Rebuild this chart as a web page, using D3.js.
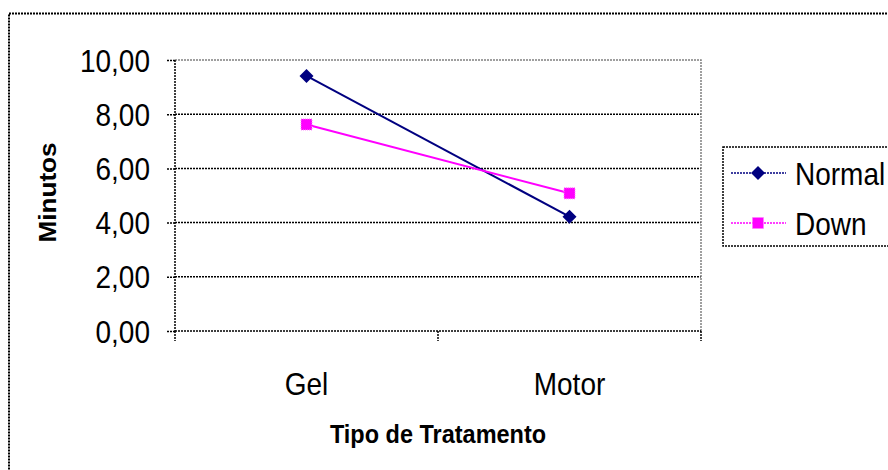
<!DOCTYPE html>
<html>
<head>
<meta charset="utf-8">
<script src="https://cdn.jsdelivr.net/npm/d3@7"></script>
<style>
  html, body { margin: 0; padding: 0; background: #fff; }
  svg { display: block; font-family: "Liberation Sans", Arial, sans-serif; }
</style>
</head>
<body>
<svg id="chart" width="888" height="470"></svg>
<script>
// Tempo médio por tipo de tratamento
const categories = ["Gel", "Motor"];
const seriesNames = ["Normal", "Down"];
const normalValues = [9.41, 4.22];
const downValues = [7.62, 5.08];
const yTicks = [0, 2, 4, 6, 8, 10];
const seriesColors = ["#000080", "#FF00FF"];

const svg = d3.select("#chart");
const margin = { left: 175, right: 187, top: 60, bottom: 139 };
const W = 888, H = 470;
const plotW = W - margin.left - margin.right;
const plotH = H - margin.top - margin.bottom;
const TALL = 1.12; // glyphs are drawn slightly taller than wide

const fmt = v => d3.format(".2f")(v).replace(".", ",");

// text placed at a baseline point, stretched vertically
function label(parent, x, y, str, size, anchor, weight) {
  return parent.append("text")
    .attr("transform", `translate(${x},${y}) scale(1,${TALL})`)
    .attr("text-anchor", anchor || "start")
    .attr("font-size", size)
    .attr("font-weight", weight || "normal")
    .attr("fill", "#000")
    .text(str);
}

// outer chart frame (runs past the right and bottom edges)
svg.append("rect")
  .attr("x", 9).attr("y", 13.5)
  .attr("width", 900).attr("height", 480)
  .attr("fill", "none").attr("stroke", "#000")
  .attr("stroke-width", 2).attr("stroke-dasharray", "2,1");

const x = d3.scaleBand().domain(categories).range([0, plotW]);
const y = d3.scaleLinear().domain([0, 10]).range([plotH, 0]);

const g = svg.append("g").attr("transform", `translate(${margin.left},${margin.top})`);

// horizontal gridlines
g.append("g").selectAll("line")
  .data(yTicks.filter(t => t > 0 && t < 10))
  .join("line")
  .attr("x1", 0).attr("x2", plotW)
  .attr("y1", d => y(d)).attr("y2", d => y(d))
  .attr("stroke", "#000").attr("stroke-width", 1.5)
  .attr("stroke-dasharray", "2,1");

// plot area frame (top and right)
g.append("path")
  .attr("d", `M0,${y(10)}H${plotW}V${plotH}`)
  .attr("fill", "none").attr("stroke", "#808080")
  .attr("stroke-width", 1.5).attr("stroke-dasharray", "2,1");

// y axis
const yAxis = d3.axisLeft(y).tickValues(yTicks).tickFormat("").tickSize(9);
const ya = g.append("g").call(yAxis);
ya.select(".domain").attr("stroke-width", 1.5).attr("stroke-dasharray", "2,1").attr("d", `M0,${y(10)}V${plotH}`);
ya.selectAll(".tick line").attr("stroke-width", 1.5).attr("stroke-dasharray", "2,1");
ya.selectAll(".tick").each(function (d) {
  label(d3.select(this), -25, 11, fmt(d), 28, "end");
});

// x axis: ticks at category boundaries
const xa = g.append("g").attr("transform", `translate(0,${plotH})`);
xa.append("line").attr("x1", 0).attr("x2", plotW)
  .attr("stroke", "#000").attr("stroke-width", 1.5).attr("stroke-dasharray", "2,1");
const bounds = [0, ...categories.map(c => x(c) + x.bandwidth())];
xa.selectAll(".bt").data(bounds).join("line")
  .attr("x1", d => d).attr("x2", d => d)
  .attr("y1", 0).attr("y2", 10)
  .attr("stroke", "#000").attr("stroke-width", 1.5).attr("stroke-dasharray", "2,1");
categories.forEach(c => label(xa, x(c) + x.bandwidth() / 2, 64, c, 28, "middle"));

// axis titles
label(svg, margin.left + plotW / 2, 443, "Tipo de Tratamento", 23.5, "middle", "bold");
svg.append("text")
  .attr("transform", `translate(55.5,${margin.top + plotH / 2 - 3}) rotate(-90) scale(1.09,1)`)
  .attr("text-anchor", "middle")
  .attr("font-size", 24).attr("font-weight", "bold")
  .text("Minutos");

// markers
const diamond = (cx, cy, r) => `M${cx},${cy - r}L${cx + r},${cy}L${cx},${cy + r}L${cx - r},${cy}Z`;
function marker(sel, i, cx, cy) {
  if (i === 0) {
    sel.append("path").attr("d", diamond(cx, cy, 7)).attr("fill", seriesColors[0]);
  } else {
    sel.append("rect").attr("x", cx - 5.5).attr("y", cy - 5.5)
      .attr("width", 11).attr("height", 11)
      .attr("fill", seriesColors[1]).attr("stroke", "#ff80ff")
      .attr("stroke-width", 1).attr("stroke-dasharray", "1,1");
  }
}

const series = [normalValues, downValues];
const line = d3.line()
  .x((d, i) => x(categories[i]) + x.bandwidth() / 2)
  .y(d => y(d));

series.forEach((vals, si) => {
  g.append("path").datum(vals)
    .attr("d", line)
    .attr("fill", "none")
    .attr("stroke", seriesColors[si])
    .attr("stroke-width", 2);
});
series.forEach((vals, si) => {
  vals.forEach((v, i) => marker(g, si, x(categories[i]) + x.bandwidth() / 2, y(v)));
});

// legend
const lg = svg.append("g");
lg.append("rect")
  .attr("x", 723).attr("y", 147)
  .attr("width", 200).attr("height", 99)
  .attr("fill", "#fff").attr("stroke", "#000")
  .attr("stroke-width", 1.5).attr("stroke-dasharray", "2,1");
seriesNames.forEach((name, i) => {
  const cy = 173 + i * 50;
  lg.append("line").attr("x1", 731).attr("x2", 786)
    .attr("y1", cy).attr("y2", cy)
    .attr("stroke", seriesColors[i]).attr("stroke-width", 1.5)
    .attr("stroke-dasharray", "2,1");
  marker(lg, i, 758, cy);
  label(lg, 795, cy + 12, name, 28, "start");
});
</script>
</body>
</html>
